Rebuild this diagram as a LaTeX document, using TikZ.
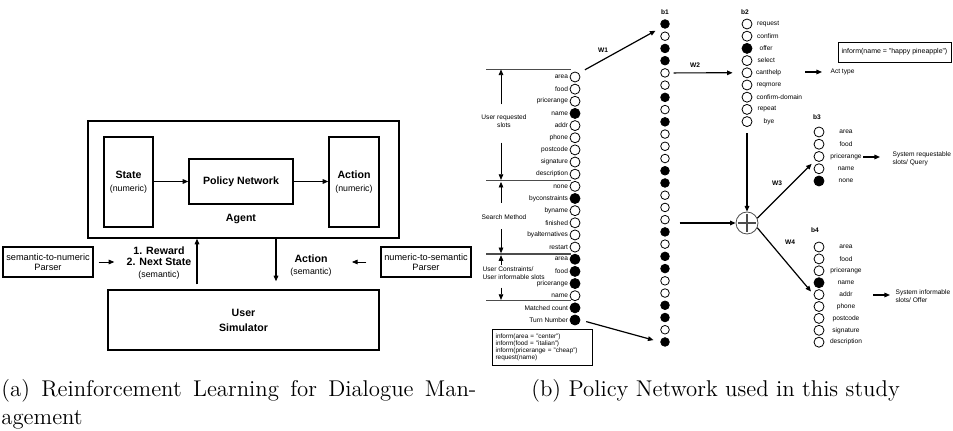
\documentclass[tikz,border=0pt]{standalone}
\usepackage{fontspec}
\setsansfont{Liberation Sans}
\usetikzlibrary{arrows.meta,positioning,calc}
\newcommand\pxu{0.5pt}
\newcommand\subtxt[1]{{\mdseries\fontsize{4.4}{5.6}\selectfont #1}}

\begin{document}
\begin{tikzpicture}[x=0.5pt,y=-0.5pt,
    blockbox/.style={draw,line width=0.7pt,inner sep=0pt},
    head/.style={font=\sffamily\bfseries\fontsize{5.3}{5.6}\selectfont,align=center,inner sep=1pt},
    plaintxt/.style={font=\sffamily\fontsize{4.6}{5}\selectfont,align=center,inner sep=1pt},
    lab/.style={font=\sffamily\fontsize{3.3}{3.8}\selectfont,inner sep=0.6pt},
    blab/.style={font=\sffamily\bfseries\fontsize{3.3}{3.8}\selectfont,inner sep=0.6pt},
    slot/.style={circle,draw,inner sep=0pt,minimum size=5pt,fill=white},
    unit/.style={circle,draw,inner sep=0pt,minimum size=4.3pt,fill=white},
    on/.style={fill=black},
    off/.style={},
    arr/.style={semithick,-{Triangle[length=2.8pt,width=2.3pt]}},
    sepline/.style={draw=black!70,line width=0.7pt},
    captxt/.style={font=\fontsize{11.4}{13.8}\selectfont,inner sep=0pt}
  ]
  \useasboundingbox (0,0) rectangle (953,431);

  \node[blockbox,minimum width=311*\pxu,minimum height=117*\pxu] (agent) at (243.5,179.5) {};
  \node[blockbox,head,minimum width=49*\pxu,minimum height=90*\pxu] (state) at (128.5,182) {State\\[0.9pt]\subtxt{(numeric)}};
  \node[blockbox,head,minimum width=104*\pxu,minimum height=45*\pxu] (policy) at (241,181.5) {Policy Network};
  \node[blockbox,head,minimum width=50*\pxu,minimum height=90*\pxu] (action) at (354,182) {Action\\[0.9pt]\subtxt{(numeric)}};
  \node[head] (agentlbl) at (241,219) {Agent};
  \draw[arr] (state.east |- policy) -- (policy);
  \draw[arr] (policy) -- (action.west |- policy);

  \node[blockbox,head,minimum width=271*\pxu,minimum height=60*\pxu] (sim) at (243.5,320) {User\\[1.9pt]Simulator};
  \node[blockbox,plaintxt,minimum width=90*\pxu,minimum height=30*\pxu] (s2n) at (48,262) {semantic-to-numeric\\Parser};
  \node[blockbox,plaintxt,minimum width=90*\pxu,minimum height=30*\pxu] (n2s) at (426,262) {numeric-to-semantic\\Parser};
  \node[head] (reward) at (159,263) {1. Reward\\2. Next State\\\subtxt{(semantic)}};
  \node[head] (actsem) at (311,266) {Action\\[0.4pt]\subtxt{(semantic)}};
  \draw[arr,thin,shorten <=2.5pt,shorten >=5pt] (s2n.east) -- (s2n.east -| reward.west);
  \draw[arr,thin,shorten <=7pt,shorten >=9pt] (n2s.west) -- (n2s.west -| actsem.east);
  \draw[arr] ([xshift=-23.25pt,yshift=2.5pt]sim.north) -- ([xshift=-23.25pt]agent.south);
  \draw[arr] ([xshift=16.25pt]agent.south) -- ([xshift=16.25pt,yshift=4pt]sim.north);

  \node[captxt,anchor=base west] (capa) at (1,397) {\makebox[237.5pt][s]{(a) Reinforcement Learning for Dialogue Man-}};
  \node[captxt,anchor=base west] (capa2) at (1,425) {agement};
  \node[captxt,anchor=base west] (capb) at (531,397) {(b) Policy Network used in this study};

  \foreach \y [count=\k] in {69.5,180.7,254,300.7}
    \draw[sepline] (486,\y) -- (571,\y) coordinate (s\k);
  \foreach \nm/\st [count=\i from 0] in {area/off,food/off,pricerange/off,name/on,addr/off,phone/off,postcode/off,signature/off,description/off,none/off,byconstraints/on,byname/off,finished/off,byalternatives/off,restart/off,area/on,food/on,pricerange/on,name/off,Matched count/on,Turn Number/on}
  {\node[slot,\st] (in\i) at (575,{77+12.15*\i}) {};
   \node[lab,anchor=east] (inl\i) at (in\i.west) {\nm};}

  \node[lab,align=center] (ureq) at (504,121) {User requested\\slots};
  \node[lab] (smeth) at (504,217) {Search Method};
  \node[lab,align=left,anchor=west] (ucons) at (481,273) {User Constraints/\\User informable slots};
  \draw[arr,thin,shorten <=4.4pt] ([xshift=-1.5pt]ureq.north) -- ([xshift=-35pt]s1);
  \draw[arr,thin,shorten <=6.9pt,shorten >=0.4pt] ([xshift=-1.5pt]ureq.south) -- ([xshift=-35pt]s2);
  \draw[arr,thin,shorten <=5.2pt,shorten >=0.6pt] ([xshift=-1.5pt]smeth.north) -- ([xshift=-35pt]s2);
  \draw[arr,thin,shorten <=4.2pt,shorten >=0.4pt] ([xshift=-1.5pt]smeth.south) -- ([xshift=-35pt]s3);
  \draw[arr,thin,shorten >=0.6pt] ([xshift=10pt]ucons.north west) -- ([xshift=-35pt]s3);
  \draw[arr,thin,shorten <=3.4pt,shorten >=0.4pt] ([xshift=10pt]ucons.south west) -- ([xshift=-35pt]s4);

  \node[draw,anchor=north west,align=left,font=\sffamily\fontsize{3.2}{3.45}\selectfont,text width=47pt,inner xsep=1.6pt,inner ysep=1.6pt,minimum height=18pt] (utt) at (492,329) {inform(area = "center")\\inform(food = "italian")\\inform(pricerange = "cheap")\\request(name)};

  \node[blab] (b1) at (665,12) {b1};
  \foreach \st [count=\i from 0] in {on,off,on,on,off,off,on,off,on,off,off,off,on,on,off,off,off,on,off,on,on,off,off,on,on,off,on}
    \node[unit,\st] (h\i) at (665,{24+12.23*\i}) {};
  \draw[arr,shorten <=3.5pt,shorten >=3.5pt] (in0.north east) -- (h0.south west);
  \node[blab] (w1) at (603,50) {W1};
  \draw[arr,shorten <=3pt,shorten >=3.5pt] (in20.east) -- (h26.west);

  \node[blab] (b2) at (745,12) {b2};
  \foreach \nm/\st/\x [count=\i from 0] in {request/off/755.5,confirm/off/755.5,offer/on/758,select/off/756,canthelp/off/754.5,reqmore/off/755,confirm-domain/off/755,repeat/off/756,bye/off/762}
  {\node[slot,\st] (c\i) at (747,{24+12.2*\i}) {};
   \node[lab,anchor=west] (cl\i) at (\x,{24+12.2*\i}) {\nm};}
  \draw[arr,shorten <=2pt,shorten >=4.5pt] (h4.east) -- (c4.west);
  \node[blab] (w2) at (695,65) {W2};
  \node[lab,anchor=west] (acttype) at (829,72) {Act type};
  \draw[arr] ([xshift=-12pt]acttype.west) -- ([xshift=-3.5pt]acttype.west);
  \node[draw,font=\sffamily\fontsize{3.5}{4}\selectfont,minimum width=113*\pxu,minimum height=20*\pxu,inner sep=0pt] (sysact) at (894.5,52) {inform(name = "happy pineapple")};

  \node[circle,draw=black!70,inner sep=0pt,minimum size=11pt,
    path picture={\draw[semithick] ([yshift=-1pt]path picture bounding box.north) -- ([yshift=1pt]path picture bounding box.south)
      ([xshift=1pt]path picture bounding box.west) -- ([xshift=-1pt]path picture bounding box.east);}] (sum) at (747,223) {};
  \draw[arr,shorten <=3.25pt] (c8.south) -- (sum.north);
  \draw[arr,shorten <=5pt] (h17.east |- sum.west) -- (sum.west);

  \node[blab] (b3) at (817,117) {b3};
  \foreach \nm/\st [count=\i from 0] in {area/off,food/off,pricerange/off,name/off,none/on}
  {\node[slot,\st] (d\i) at (819,{132+12.25*\i}) {};
   \node[lab] (dl\i) at (846,{132+12.25*\i}) {\nm};}
  \draw[arr,shorten >=2.5pt] (sum.25) -- (d2.south west);
  \node[blab] (w3) at (777,183) {W3};
  \node[lab,anchor=west,align=left] (sysq) at (891,159) {System requestable\\slots/ Query};
  \draw[arr] ([xshift=-14pt,yshift=1pt]sysq.west) -- ([xshift=-5.5pt,yshift=1pt]sysq.west);

  \node[blab] (b4) at (815,230) {b4};
  \foreach \nm/\st [count=\i from 0] in {area/off,food/off,pricerange/off,name/on,addr/off,phone/off,postcode/off,signature/off,description/off}
  {\node[slot,\st] (e\i) at (819,{247+11.9*\i}) {};
   \node[lab] (el\i) at (846,{247+11.9*\i}) {\nm};}
  \draw[arr,shorten >=2pt] (sum.-25) -- (e4.west);
  \node[blab] (w4) at (790,242) {W4};
  \node[lab,anchor=west,align=left] (sysi) at (894,296) {System informable\\slots/ Offer};
  \draw[arr] ([xshift=-10.5pt,yshift=0.5pt]sysi.west) -- ([xshift=-2pt,yshift=0.5pt]sysi.west);
\end{tikzpicture}
\end{document}
